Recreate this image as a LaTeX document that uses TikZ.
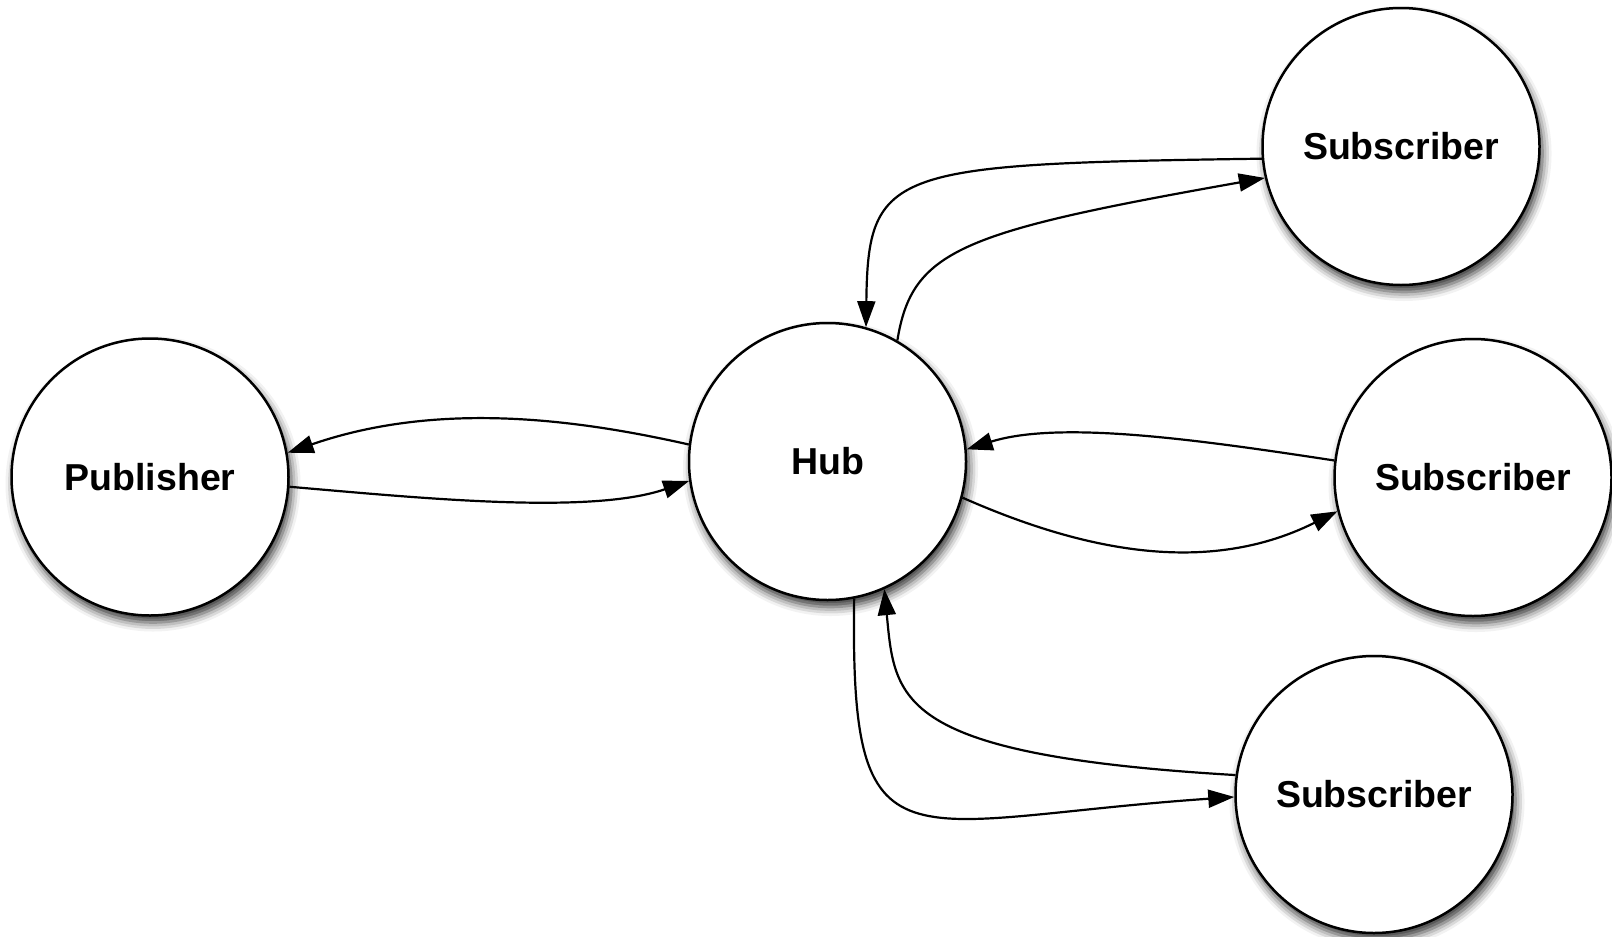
\documentclass[tikz,border=0pt]{standalone}
\usepackage{fontspec}
\setmainfont{Liberation Sans}
\usetikzlibrary{arrows.meta,shadows.blur}
\tikzset{
  ball/.style={circle, draw=black, fill=white, line width=2.5pt, minimum size=277pt, inner sep=0pt,
    font=\fontsize{37.5}{41}\selectfont\bfseries,
    blur shadow={shadow xshift=3pt, shadow yshift=-7pt, shadow blur radius=9pt, shadow opacity=80}},
  link/.style={draw=black, line width=2.2pt, -{Triangle[length=26pt,width=18pt]}}
}
\begin{document}
\begin{tikzpicture}[x=1pt,y=-1pt]
\useasboundingbox (0,0) rectangle (1612,937);
\node[ball] (pub) at (150,477) {Publisher};
\node[ball] (hub) at (827.5,461.5) {Hub};
\node[ball] (st) at (1401,146.5) {Subscriber};
\node[ball] (sm) at (1473,477.5) {Subscriber};
\node[ball] (sb) at (1374,794.5) {Subscriber};
% publisher <-> hub
\draw[link] (hub.173) .. controls (580,420) and (440,400) .. (pub.10);
\draw[link] (pub.-4) .. controls (420,498) and (590,515) .. (hub.188);
% middle subscriber <-> hub
\draw[link] (sm.173) .. controls (1200,440) and (1060,420) .. (hub.5);
\draw[link] (hub.-15) .. controls (1070,545) and (1200,580) .. (sm.194);
% top subscriber <-> hub
\draw[link] (st.185) .. controls (890,164) and (868,168) .. (hub.74);
\draw[link] (hub.60) .. controls (912,250) and (960,232) .. (st.193);
% bottom subscriber <-> hub
\draw[link] (hub.-79) .. controls (850,880) and (900,820) .. (sb.181);
\draw[link] (sb.172) .. controls (895,755) and (895,700) .. (hub.-66);
\end{tikzpicture}
\end{document}
